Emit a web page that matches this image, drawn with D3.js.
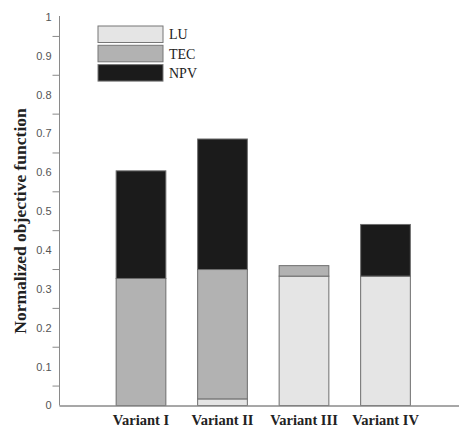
<!DOCTYPE html>
<html>
<head>
<meta charset="utf-8">
<script src="https://cdn.jsdelivr.net/npm/d3@7"></script>
<style>
  body { margin: 0; background: #fff; }
  svg { display: block; }
</style>
</head>
<body>
<div class="chart"></div>
<script>
// chart data
const variants = ["Variant I", "Variant II", "Variant III", "Variant IV"];
const series = ["LU", "TEC", "NPV"];
const luValues = [0, 0.017, 0.333, 0.333];
const tecValues = [0.327, 0.333, 0.027, 0];
const npvValues = [0.277, 0.336, 0, 0.133];
const yTickLabels = [0, 0.1, 0.2, 0.3, 0.4, 0.5, 0.6, 0.7, 0.8, 0.9, 1];
const yMinorTicks = [0.05, 0.15, 0.25, 0.35, 0.45, 0.55, 0.65, 0.75, 0.85, 0.95];

const colors = {"LU": "#e5e5e5", "TEC": "#b2b2b2", "NPV": "#1b1b1b"};

function setupChart() {
    const width = 459;
    const height = 428;

    const svg = d3.select('.chart')
      .append('svg')
      .attr('width', width)
      .attr('height', height);

    const x = d3.scaleBand()
      .domain(variants)
      .range([100.25, 426.25])
      .paddingInner(0.39)
      .paddingOuter(0.195);
    const y = d3.scaleLinear().domain([0, 1]).range([405.5, 17]);

    return { svg, x, y };
}

function drawChart(chart) {
    const { svg, x, y } = chart;

    const table = variants.map((v, i) => ({
      variant: v, LU: luValues[i], TEC: tecValues[i], NPV: npvValues[i]
    }));
    const stacked = d3.stack().keys(series)(table);

    // bars
    svg.append('g')
      .selectAll('g')
      .data(stacked)
      .enter().append('g')
        .attr('fill', d => colors[d.key])
      .selectAll('rect')
      .data(d => d.filter(s => s[1] - s[0] > 0))
      .enter().append('rect')
        .attr('x', d => x(d.data.variant))
        .attr('y', d => y(d[1]))
        .attr('width', x.bandwidth())
        .attr('height', d => y(d[0]) - y(d[1]))
        .attr('stroke', '#6e6e6e')
        .attr('stroke-width', 1);

    // y axis: line, minor ticks between labels, labels without ticks
    const yAxis = svg.append('g').attr('transform', 'translate(59.5,0)');
    yAxis.append('line')
      .attr('y1', y(1) - 1).attr('y2', y(0))
      .attr('stroke', '#8a8a8a').attr('stroke-width', 1);
    yAxis.selectAll('.minor')
      .data(yMinorTicks)
      .enter().append('line')
        .attr('x1', -7).attr('x2', 0)
        .attr('y1', d => y(d)).attr('y2', d => y(d))
        .attr('stroke', '#8a8a8a').attr('stroke-width', 1);
    yAxis.selectAll('text')
      .data(yTickLabels)
      .enter().append('text')
        .attr('x', -8)
        .attr('y', d => y(d))
        .attr('dy', '0.35em')
        .attr('text-anchor', 'end')
        .attr('font-family', 'Liberation Sans, Arial, sans-serif')
        .attr('font-size', 11)
        .attr('fill', '#555')
        .text(d => d);

    // x axis line
    svg.append('line')
      .attr('x1', 59.5).attr('x2', 459)
      .attr('y1', y(0) + 0.5).attr('y2', y(0) + 0.5)
      .attr('stroke', '#8a8a8a').attr('stroke-width', 1.5);

    svg.append('g')
      .selectAll('text')
      .data(variants)
      .enter().append('text')
        .attr('x', d => x(d) + x.bandwidth() / 2)
        .attr('y', 425)
        .attr('text-anchor', 'middle')
        .attr('font-family', 'Liberation Serif, Times New Roman, serif')
        .attr('font-weight', 'bold')
        .attr('font-size', 14.5)
        .attr('fill', '#222')
        .text(d => d);

    // y axis title
    svg.append('text')
      .attr('transform', 'translate(20,221) rotate(-90)')
      .attr('dy', '0.35em')
      .attr('text-anchor', 'middle')
      .attr('font-family', 'Liberation Serif, Times New Roman, serif')
      .attr('font-weight', 'bold')
      .attr('font-size', 17.5)
      .attr('fill', '#222')
      .text('Normalized objective function');

    // legend
    const legend = svg.append('g').attr('transform', 'translate(98,26)');
    const item = legend.selectAll('g')
      .data(series)
      .enter().append('g')
        .attr('transform', (d, i) => `translate(0, ${i * 19.3})`);
    item.append('rect')
      .attr('width', 65).attr('height', 16.5)
      .attr('fill', d => colors[d])
      .attr('stroke', '#777').attr('stroke-width', 1);
    item.append('text')
      .attr('x', 71).attr('y', 8.5)
      .attr('dy', '0.35em')
      .attr('font-family', 'Liberation Serif, Times New Roman, serif')
      .attr('font-size', 14)
      .attr('fill', '#222')
      .text(d => d);
}

const chart = setupChart();
drawChart(chart);
</script>
</body>
</html>
